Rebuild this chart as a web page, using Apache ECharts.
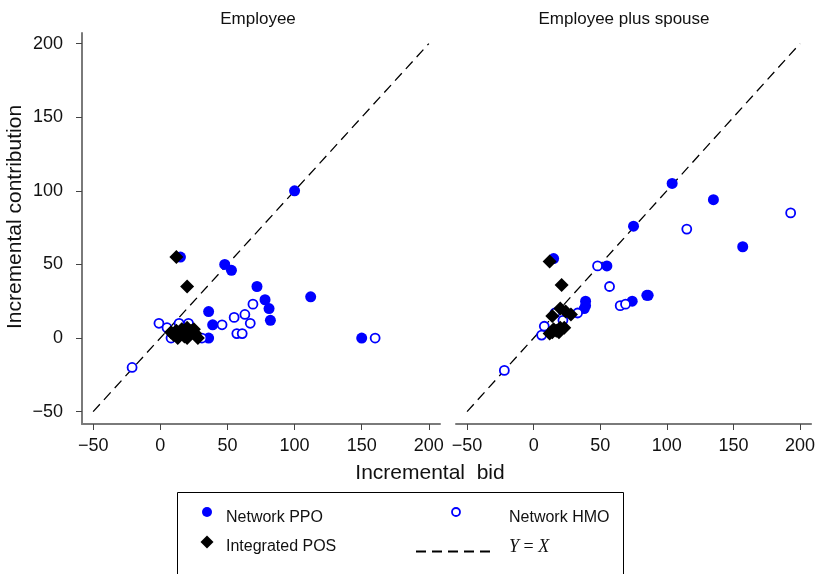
<!DOCTYPE html>
<html>
<head>
<meta charset="utf-8">
<script src="https://cdn.jsdelivr.net/npm/echarts@6/dist/echarts.min.js"></script>
<style>
  html, body { margin: 0; padding: 0; background: #fff; }
  #main { width: 818px; height: 574px; }
</style>
</head>
<body>
<div id="main"></div>
<script>
// incremental bid vs incremental contribution, two panels

var tickValues = [-50, 0, 50, 100, 150, 200];
var diag = [-50, 200];

// Employee
var ppoEmp = [[100,100],[15,55],[48,50],[53,46],[72,35],[78,26],[81,20],[82,12],[112,28],[36,18],[39,9],[36,0],[150,0]];
var hmoEmp = [[-21,-20],[-1,10],[5,7],[8,0],[14,10],[21,10],[31,0],[46,9],[55,14],[63,16],[69,23],[67,10],[57,3],[61,3],[160,0]];
var posEmp = [[12,55],[20,35],[8,4],[10,2],[12,5],[13,0],[15,3],[16,6],[18,1],[19,4],[20,0],[20,7],[22,3],[23,5],[25,6],[26,3],[28,0]];

// Employee plus spouse
var ppoSp = [[104,105],[135,94],[75,76],[157,62],[15,54],[55,49],[74,25],[85,29],[86,29],[39,25],[38,20],[39,22]];
var hmoSp = [[193,85],[115,74],[48,49],[57,35],[65,22],[69,23],[33,17],[22,12],[8,8],[6,2],[-22,-22],[16,17]];
var posSp = [[12,52],[21,36],[20,20],[14,15],[28,16],[24,18],[12,3],[14,4],[17,5],[20,7],[23,7],[19,4],[15,6]];

var myChart = echarts.init(document.getElementById('main'), null, { renderer: 'canvas' });

var font = 'Liberation Sans, Arial, Helvetica, sans-serif';
var blue = '#0000ff';

function minus(v) { return String(v).replace('-', '\u2212'); }

function xAxisFor(idx) {
    return {
        type: 'value', gridIndex: idx, min: -58.3, max: 208.3,
        axisLine: { onZero: false, lineStyle: { color: '#7a7a7a', width: 2 } },
        axisTick: { customValues: tickValues, length: 6, lineStyle: { color: '#444', width: 1 } },
        axisLabel: { customValues: tickValues, margin: 13, fontSize: 18, color: '#111', fontFamily: font, formatter: minus },
        splitLine: { show: false }
    };
}

function panelSeries(idx, ppo, hmo, pos) {
    return [
        { name: 'Network PPO', type: 'scatter', xAxisIndex: idx, yAxisIndex: idx, data: ppo,
          symbol: 'circle', symbolSize: 11, itemStyle: { color: blue, opacity: 1 }, z: 3 },
        { name: 'Network HMO', type: 'scatter', xAxisIndex: idx, yAxisIndex: idx, data: hmo,
          symbol: 'circle', symbolSize: 9, itemStyle: { color: '#fff', borderColor: blue, borderWidth: 1.8, opacity: 1 }, z: 4 },
        { name: 'Integrated POS', type: 'scatter', xAxisIndex: idx, yAxisIndex: idx, data: pos,
          symbol: 'diamond', symbolSize: 14, itemStyle: { color: '#000', opacity: 1 }, z: 5 },
        { name: 'Y = X', type: 'line', xAxisIndex: idx, yAxisIndex: idx,
          data: diag.map(function (v) { return [v, v]; }),
          showSymbol: false, symbol: 'none', silent: true, z: 2,
          lineStyle: { color: '#000', width: 1.3, type: [10, 6] } }
    ];
}

var option = {
    backgroundColor: '#fff',
    animation: false,
    grid: [
        { left: 82, top: 33, width: 358, height: 391 },
        { left: 456, top: 33, width: 358, height: 391 }
    ],
    xAxis: [xAxisFor(0), xAxisFor(1)],
    yAxis: [
        {
            type: 'value', gridIndex: 0, min: -58.4, max: 207.2,
            axisLine: { show: true, onZero: false, lineStyle: { color: '#7a7a7a', width: 2 } },
            axisTick: { show: true, customValues: tickValues, length: 6, lineStyle: { color: '#444', width: 1 } },
            axisLabel: { customValues: tickValues, margin: 19, fontSize: 18, color: '#111', fontFamily: font, formatter: minus },
            splitLine: { show: false }
        },
        { type: 'value', gridIndex: 1, min: -58.4, max: 207.2, show: false, splitLine: { show: false } }
    ],
    series: panelSeries(0, ppoEmp, hmoEmp, posEmp).concat(panelSeries(1, ppoSp, hmoSp, posSp)),
    graphic: [
        { type: 'text', x: 258, y: 19, style: { text: 'Employee', font: '17px ' + font, fill: '#111', align: 'center', verticalAlign: 'middle' } },
        { type: 'text', x: 624, y: 19, style: { text: 'Employee plus spouse', font: '17px ' + font, fill: '#111', align: 'center', verticalAlign: 'middle' } },
        { type: 'text', x: 430, y: 473, style: { text: 'Incremental  bid', font: '21px ' + font, fill: '#111', align: 'center', verticalAlign: 'middle' } },
        { type: 'text', x: 15, y: 217, rotation: Math.PI / 2, style: { text: 'Incremental contribution', font: '21px ' + font, fill: '#111', align: 'center', verticalAlign: 'middle' } },
        // legend box
        { type: 'rect', shape: { x: 177.5, y: 492.5, width: 446, height: 100 }, style: { fill: 'none', stroke: '#000', lineWidth: 1 } },
        { type: 'circle', shape: { cx: 207, cy: 512, r: 5 }, style: { fill: blue } },
        { type: 'text', x: 226, y: 518, style: { text: 'Network PPO', font: '16px ' + font, fill: '#111', verticalAlign: 'middle' } },
        { type: 'circle', shape: { cx: 456, cy: 512, r: 4 }, style: { fill: '#fff', stroke: blue, lineWidth: 1.8 } },
        { type: 'text', x: 509, y: 518, style: { text: 'Network HMO', font: '16px ' + font, fill: '#111', verticalAlign: 'middle' } },
        { type: 'polygon', shape: { points: [[207, 535.5], [213.5, 542], [207, 548.5], [200.5, 542]] }, style: { fill: '#000' } },
        { type: 'text', x: 226, y: 547, style: { text: 'Integrated POS', font: '16px ' + font, fill: '#111', verticalAlign: 'middle' } },
        { type: 'line', shape: { x1: 416, y1: 551.5, x2: 495, y2: 551.5 }, style: { stroke: '#000', lineWidth: 2, lineDash: [10, 6] } },
        { type: 'text', x: 509, y: 547, style: {
            text: '{i|Y} = {i|X}', font: '18px Liberation Serif, Times New Roman, serif', fill: '#111', verticalAlign: 'middle',
            rich: { i: { fontStyle: 'italic', fontFamily: 'Liberation Serif, Times New Roman, serif', fontSize: 18 } }
        } }
    ]
};

myChart.setOption(option);
</script>
</body>
</html>
